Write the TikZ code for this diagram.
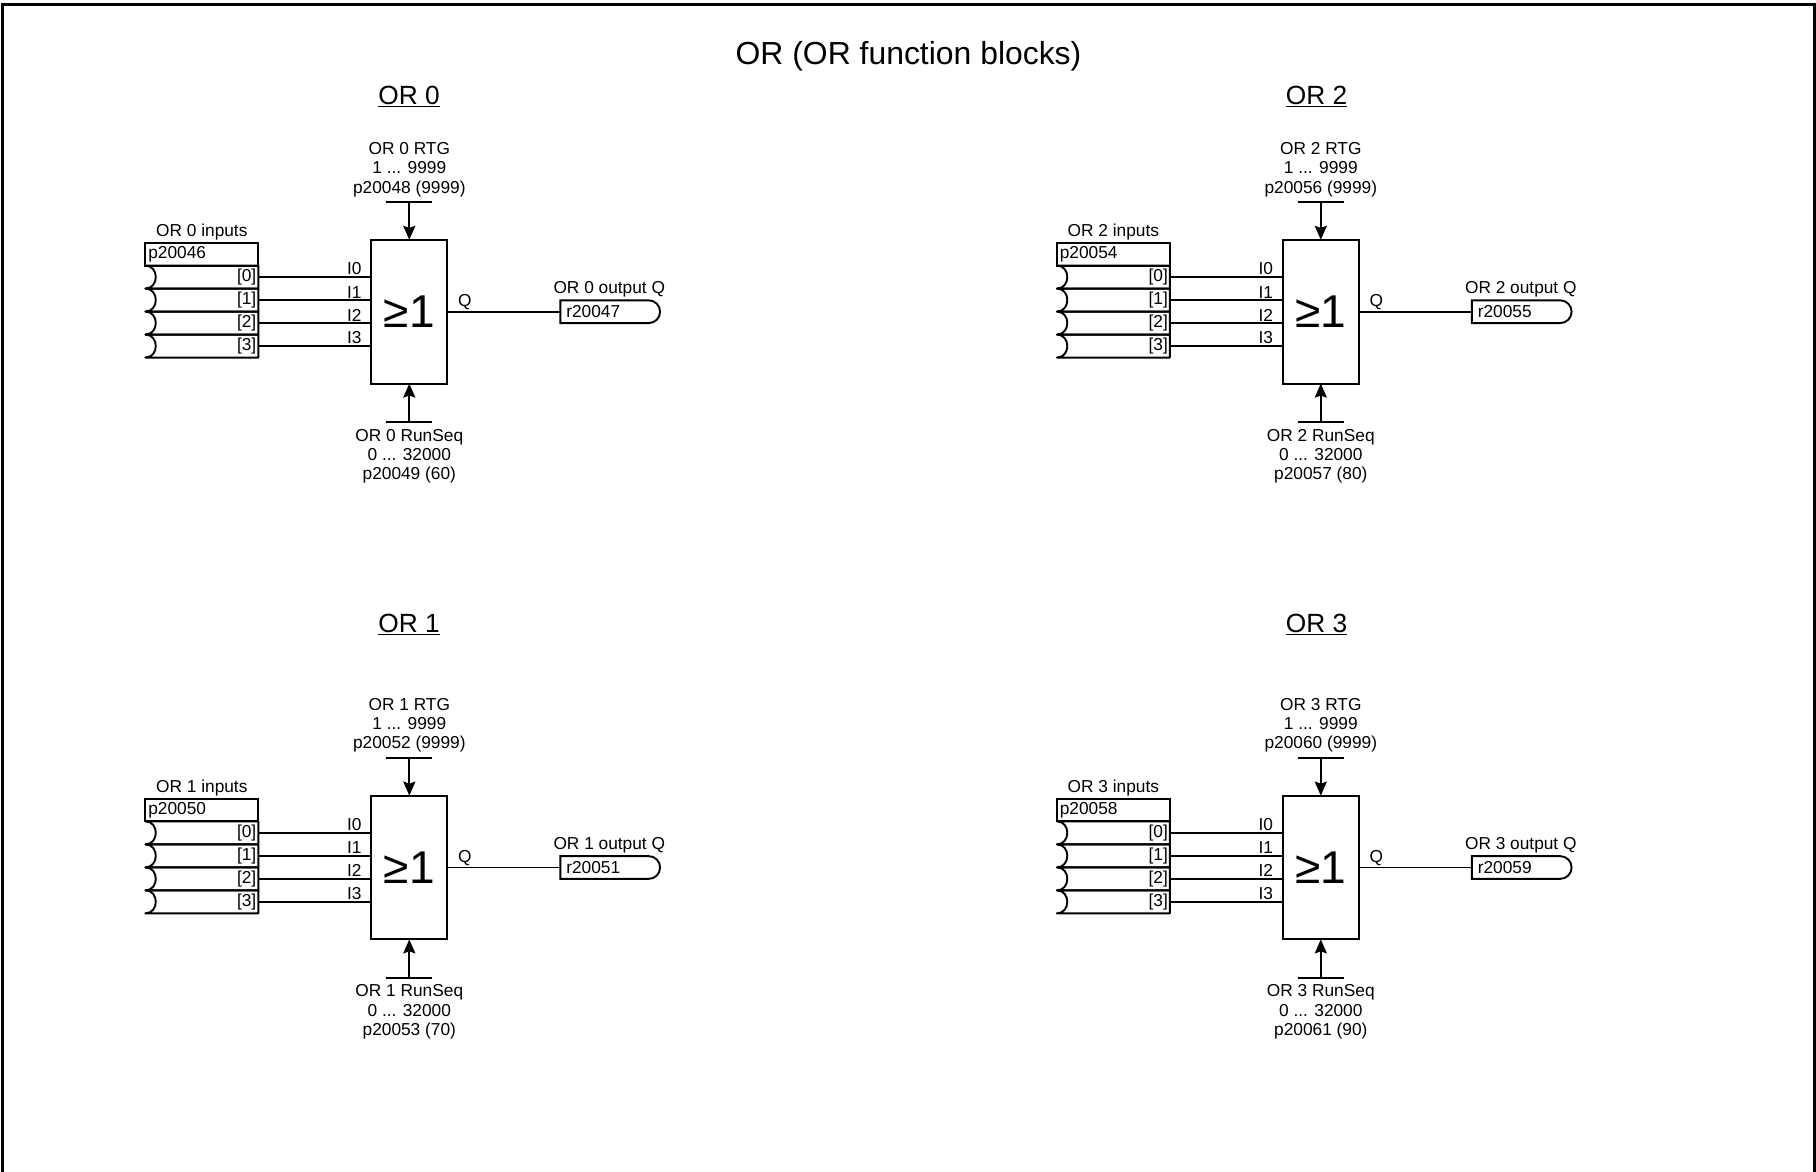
\documentclass[tikz,border=0pt]{standalone}
\usepackage{fontspec}
\setmainfont{Liberation Sans}
\usetikzlibrary{positioning, arrows.meta, shapes.misc}
\tikzset{
  txt/.style={font=\fontsize{17.3}{19.4}\selectfont,inner sep=0pt,outer sep=0pt,align=center},
  heading/.style={font=\fontsize{26.3}{30}\selectfont,inner sep=0pt},
  orgate/.style={draw,outer sep=0pt,minimum width=76pt,minimum height=143.7pt,inner sep=0pt,font=\fontsize{46}{50}\selectfont},
  inhead/.style={txt,draw,minimum height=22.7pt,text width=107pt,inner xsep=3pt,align=left},
  inrow/.style={txt,minimum height=23pt,text width=109pt,inner xsep=2pt,align=right},
  outbox/.style={txt,draw,rounded rectangle,rounded rectangle west arc=none,minimum height=22.7pt,text width=86pt,inner xsep=6pt,align=left},
  port/.style={txt,above,yshift=2pt},
  feed/.style={-{Stealth[length=14pt,width=12pt,inset=2pt]}},
}
\newcommand{\orrow}[1]{\draw[line join=round] (#1.north west) -- (#1.north east) -- (#1.south east) -- (#1.south west)
  .. controls +(14,0) and ([xshift=14pt]#1.north west) .. (#1.north west);}
% number, x, y, inputs, output, rtg, runseq, runseq value
\newcommand{\orblock}[8]{
  \node[orgate] (g#1) at (#2,#3) {≥1};
  \node[inhead,anchor=north east] (h#1) at ([shift={(-113pt,-3pt)}]g#1.north west) {#4};
  \node[txt,above=3pt of h#1] (hl#1) {OR #1 inputs};
  \node[inrow,below=0pt of h#1] (ra#1) {[0]};
  \node[inrow,below=0pt of ra#1] (rb#1) {[1]};
  \node[inrow,below=0pt of rb#1] (rc#1) {[2]};
  \node[inrow,below=0pt of rc#1] (rd#1) {[3]};
  \orrow{ra#1} \orrow{rb#1} \orrow{rc#1} \orrow{rd#1}
  \draw (ra#1.east) -- (ra#1.east -| g#1.west) node[port,pos=0.85] (ia#1) {I0};
  \draw (rb#1.east) -- (rb#1.east -| g#1.west) node[port,pos=0.85] (ib#1) {I1};
  \draw (rc#1.east) -- (rc#1.east -| g#1.west) node[port,pos=0.85] (ic#1) {I2};
  \draw (rd#1.east) -- (rd#1.east -| g#1.west) node[port,pos=0.85] (id#1) {I3};
  \node[outbox,right=113pt of g#1] (o#1) {#5};
  \node[txt,above=3pt of o#1] (ol#1) {OR #1 output Q};
  \draw (g#1.east) -- (o#1.west) node[port,pos=0.155] (q#1) {Q};
  \coordinate[above=37.6pt of g#1.north] (tt#1);
  \coordinate[below=38.5pt of g#1.south] (bb#1);
  \draw ([xshift=-23pt]tt#1) -- ([xshift=23pt]tt#1);
  \draw ([xshift=-23pt]bb#1) -- ([xshift=23pt]bb#1);
  \draw[feed] (tt#1) -- (g#1.north);
  \draw[feed] (bb#1) -- (g#1.south);
  \node[txt,above=5.5pt of tt#1] (rtg#1) {OR #1 RTG\\1 ... 9999\\#6 (9999)};
  \node[txt,below=7pt of bb#1] (seq#1) {OR #1 RunSeq\\0 ... 32000\\#7 (#8)};
}
\begin{document}
\begin{tikzpicture}[x=1pt,y=-1pt,line width=1.9pt]
  \useasboundingbox (0,0) rectangle (1816,1172);
  \draw[line width=3pt] (2,1172) -- (2,4.5) -- (1814.8,4.5) -- (1814.8,1172);
  \node[font=\fontsize{31.9}{36}\selectfont,inner sep=0pt] (title) at (908.5,56.5) {OR (OR function blocks)};
  \node[heading] (head0) at (409,96.5) {\underline{OR 0}};
  \node[heading] (head2) at (1316.5,96.5) {\underline{OR 2}};
  \node[heading] (head1) at (409,624.5) {\underline{OR 1}};
  \node[heading] (head3) at (1316.5,624.5) {\underline{OR 3}};
  \orblock{0}{409.3}{311.7}{p20046}{r20047}{p20048}{p20049}{60}
  \orblock{2}{1320.8}{311.7}{p20054}{r20055}{p20056}{p20057}{80}
  \orblock{1}{409.3}{867.5}{p20050}{r20051}{p20052}{p20053}{70}
  \orblock{3}{1320.8}{867.5}{p20058}{r20059}{p20060}{p20061}{90}
\end{tikzpicture}
\end{document}
